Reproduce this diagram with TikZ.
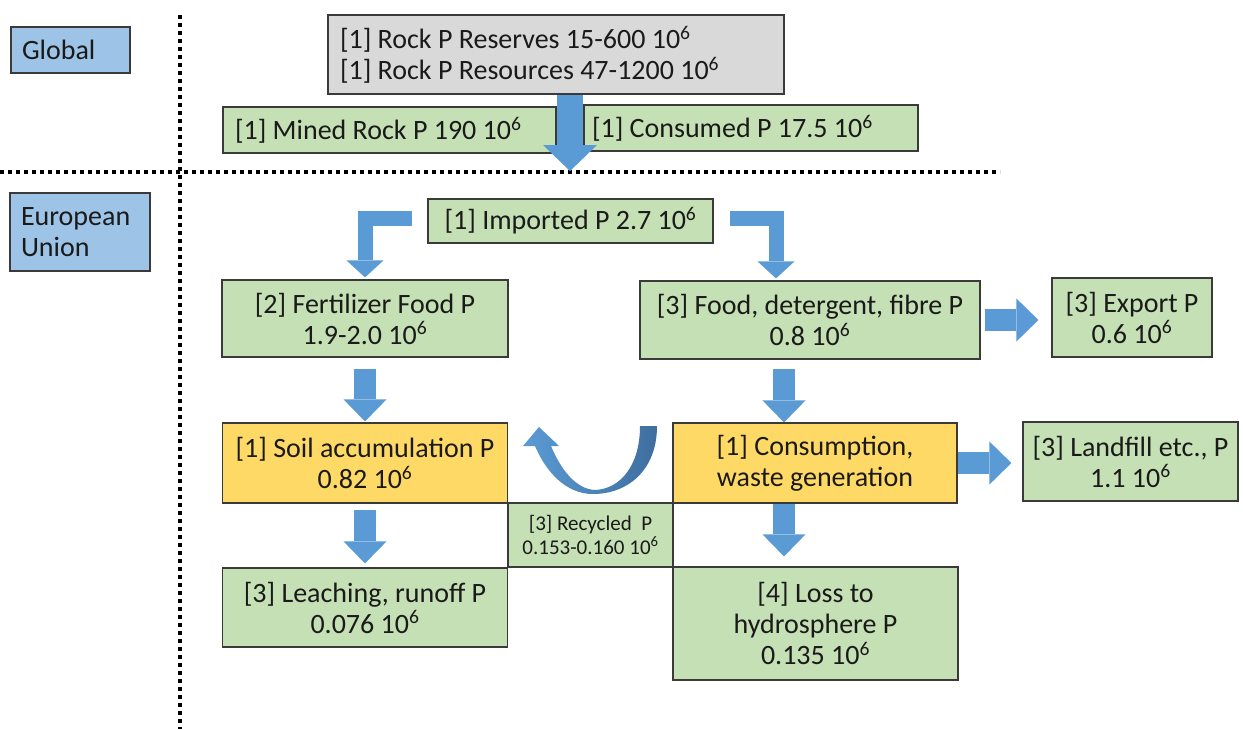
\documentclass[tikz,border=0pt]{standalone}
\usepackage{fontspec}
\setmainfont{Carlito}
\usetikzlibrary{arrows.meta,calc}
\definecolor{gfill}{HTML}{C5E0B4}
\definecolor{yfill}{HTML}{FFD966}
\definecolor{bfill}{HTML}{9DC3E6}
\definecolor{grfill}{HTML}{D9D9D9}
\definecolor{edgecol}{HTML}{3A3A3A}
\definecolor{txtcol}{HTML}{1A1A1A}
\definecolor{arrowc}{HTML}{5B9BD5}
\definecolor{arrowdk}{HTML}{3E6E9E}
\newcommand{\tensix}{10\textsuperscript{6}}
\begin{document}
\begin{tikzpicture}[x=1pt,y=-1pt,
  box/.style={draw=edgecol, line width=1.2pt, inner sep=0pt, text=txtcol,
    font=\fontsize{28}{31}\selectfont, align=center},
  gbox/.style={box, fill=gfill},
  ybox/.style={box, fill=yfill},
  lbox/.style={box, fill=bfill, align=flush left},
  graybox/.style={box, fill=grfill, align=flush left},
  sz/.style 2 args={minimum width=#1, minimum height=#2},
  arrbig/.style={draw=arrowc, line width=26pt, -{Triangle[width=54pt,length=26pt,line width=0pt]}},
  arrmid/.style={draw=arrowc, line width=22pt, -{Triangle[width=43pt,length=22pt,line width=0pt]}},
  arrbent/.style={draw=arrowc, line width=15pt, line join=miter, -{Triangle[width=37pt,length=17pt,line width=0pt]}},
  dotline/.style={draw=black, line width=4pt, dash pattern=on 4pt off 4pt}
]
\useasboundingbox (0,0) rectangle (1243,729);
\fill[white] (0,0) rectangle (1243,729);

% separators
\draw[dotline] (0,172) -- (1000,172);
\draw[dotline] (180,15) -- (180,729);

% region labels
\node[lbox, sz={119pt}{46pt}, text width=97pt] (global) at (70.5,50) {Global};
\node[lbox, sz={140pt}{78pt}, text width=118pt] (eu) at (80,232) {European\\Union};

% global level
\node[graybox, sz={456pt}{79pt}, text width=432pt] (gray) at (556,54.5)
  {[1] Rock P Reserves 15-600 \tensix\\{}[1] Rock P Resources 47-1200 \tensix};
\node[gbox, align=flush left, sz={333pt}{46pt}, text width=309pt] (mined) at (389.5,130)
  {[1] Mined Rock P 190 \tensix};
\node[gbox, align=flush left, sz={334pt}{46pt}, text width=318pt] (consumed) at (751,128)
  {[1] Consumed P 17.5 \tensix};

% EU level
\node[gbox, sz={285pt}{44pt}] (imported) at (570.5,221) {[1] Imported P 2.7 \tensix};
\node[gbox, sz={286pt}{77pt}] (fert) at (365,318.5) {[2] Fertilizer Food P\\1.9-2.0 \tensix};
\node[gbox, sz={340pt}{78pt}] (food) at (810,320) {[3] Food, detergent, fibre P\\0.8 \tensix};
\node[gbox, sz={160pt}{79pt}] (export) at (1132,317.5) {[3] Export P\\0.6 \tensix};
\node[ybox, sz={285pt}{80pt}] (soil) at (365,463) {[1] Soil accumulation P\\0.82 \tensix};
\node[ybox, sz={284pt}{80pt}] (cons) at (815,463) {[1] Consumption,\\waste generation};
\node[gbox, sz={215pt}{79pt}] (landfill) at (1130.5,461.5) {[3] Landfill etc., P\\1.1 \tensix};
\node[gbox, sz={165pt}{64pt}, font=\fontsize{21}{24}\selectfont] (recycled) at (590.5,535)
  {[3] Recycled~ P\\0.153-0.160 \tensix};
\node[gbox, sz={285pt}{79pt}] (leach) at (365,607.5) {[3] Leaching, runoff P\\0.076 \tensix};
\node[gbox, sz={285pt}{113pt}] (loss) at (815.5,623.5) {[4] Loss to\\hydrosphere P\\0.135 \tensix};

% connectors
\coordinate (topin) at (570,171);
\draw[arrbig] ([xshift=14pt]gray.south) -- (topin);
\draw[arrbent] ([xshift=-15pt,yshift=3pt]imported.west) -| ([yshift=2pt]fert.north);
\coordinate (foodin) at ([xshift=-34pt,yshift=2pt]food.north);
\draw[arrbent] ([xshift=16pt,yshift=3pt]imported.east) -| (foodin);
\draw[arrmid] ([yshift=-11pt]fert.south) -- ([yshift=1pt]soil.north);
\draw[arrmid] ([xshift=-26pt,yshift=-9pt]food.south) -- ([xshift=-31pt]cons.north);
\draw[arrmid] ([yshift=-6pt]soil.south) -- ([yshift=4pt]leach.north);
\draw[arrmid] ([xshift=-31pt]cons.south) -- ($(loss.north)+(-31.5,-10)$);
\draw[arrmid] ($(food.east)+(4,0)$) -- ($(food.east -| export.west)+(-13,0)$);
\draw[arrmid] (cons.east) -- ($(cons.east -| landfill.west)+(-11,0)$);

% curved recycling arrow
\shade[left color=arrowc, right color=arrowdk]
  (657,426) .. controls (657,470) and (628,494) .. (593,494)
  .. controls (566,494) and (546,472) .. (535,446)
  -- (523,446) -- (539,427) -- (559,446) -- (551,446)
  .. controls (561,470) and (576,489) .. (595,490)
  .. controls (620,489) and (640,466) .. (640,426) -- cycle;
\end{tikzpicture}
\end{document}
